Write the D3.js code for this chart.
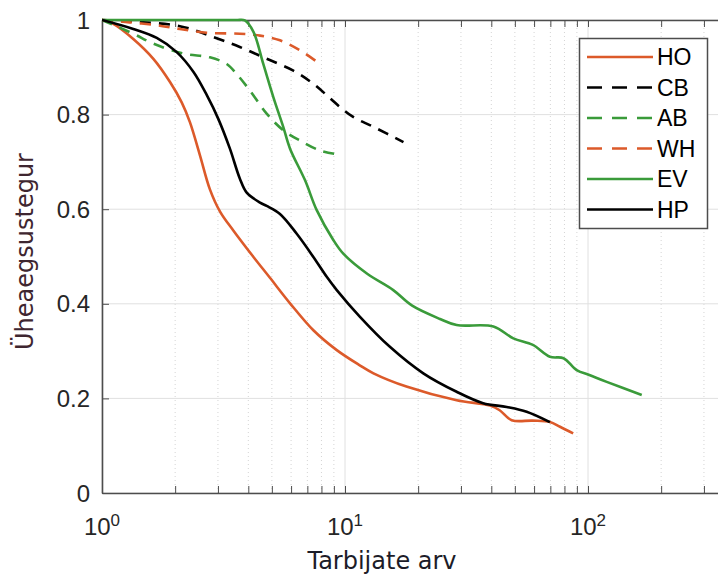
<!DOCTYPE html>
<html>
<head>
<meta charset="utf-8">
<script src="https://cdn.jsdelivr.net/npm/d3@7"></script>
<style>
  body { margin: 0; background: #fff; }
  svg { display: block; }
</style>
</head>
<body>
<div id="chart"></div>
<script>
// Series (x = number of consumers, y = coincidence factor)
const seriesNames = ["HO", "CB", "AB", "WH", "EV", "HP"];

const hoX = [1, 1.113, 1.345, 1.627, 1.905, 2.128, 2.3, 2.53, 2.78, 3.06, 3.47, 4.2, 4.91, 5.94, 7.41, 9.25, 11.5, 13.1, 17.9, 28.8, 39.5, 43.3, 48.5, 59.2, 69.7, 76.7, 86.9];
const hoY = [1, 0.992, 0.96, 0.918, 0.869, 0.826, 0.784, 0.714, 0.642, 0.595, 0.555, 0.499, 0.455, 0.401, 0.344, 0.302, 0.27, 0.253, 0.225, 0.196, 0.185, 0.175, 0.154, 0.153, 0.15, 0.14, 0.126];

const cbX = [1, 1.3, 2.09, 2.87, 3.69, 4.76, 6.13, 7.41, 9.54, 10.8, 13.1, 17.4];
const cbY = [1, 0.997, 0.987, 0.964, 0.943, 0.918, 0.893, 0.865, 0.816, 0.795, 0.774, 0.742];

const abX = [1, 1.345, 1.627, 2.16, 2.78, 3.26, 3.58, 4.06, 4.76, 5.57, 6.53, 7.89, 9.1];
const abY = [1, 0.971, 0.95, 0.929, 0.921, 0.907, 0.886, 0.851, 0.802, 0.767, 0.745, 0.724, 0.717];

const whX = [1, 1.3, 1.73, 2.09, 2.7, 3.69, 4.47, 5.4, 6.53, 7.89];
const whY = [1, 0.995, 0.988, 0.981, 0.973, 0.971, 0.967, 0.957, 0.936, 0.907];

const evX = [1, 2, 3, 3.6, 3.87, 4.2, 4.61, 5.07, 5.57, 5.94, 6.85, 7.65, 8.95, 9.84, 12.3, 15.8, 18.9, 24.6, 28.8, 40.8, 49.3, 59.3, 69.7, 79.3, 89.8, 101.9, 119.4, 166.4];
const evY = [1, 1, 1, 1, 0.999, 0.975, 0.907, 0.837, 0.774, 0.728, 0.661, 0.598, 0.535, 0.506, 0.464, 0.429, 0.396, 0.368, 0.355, 0.352, 0.327, 0.313, 0.288, 0.285, 0.26, 0.249, 0.235, 0.207];

const hpX = [1, 1.345, 1.68, 2.03, 2.38, 2.7, 3.01, 3.36, 3.69, 3.94, 4.47, 4.76, 5.4, 6.33, 7.41, 8.41, 9.25, 11.5, 15.3, 21.0, 28.8, 37.0, 46.3, 55.9, 69.7];
const hpY = [1, 0.981, 0.962, 0.932, 0.89, 0.841, 0.791, 0.728, 0.665, 0.635, 0.614, 0.607, 0.59, 0.548, 0.499, 0.457, 0.429, 0.373, 0.309, 0.253, 0.214, 0.19, 0.182, 0.172, 0.15];

const yTicks = [0, 0.2, 0.4, 0.6, 0.8, 1];
const xDecades = [1, 10, 100];
const xLabel = "Tarbijate arv";
const yLabel = "Üheaegsustegur";

const orange = "#dc5a2a", green = "#3a9b3a", black = "#000000";
const series = [
  { name: "HO", xs: hoX, ys: hoY, color: orange, dash: null },
  { name: "CB", xs: cbX, ys: cbY, color: black, dash: "11,8" },
  { name: "AB", xs: abX, ys: abY, color: green, dash: "11,8" },
  { name: "WH", xs: whX, ys: whY, color: orange, dash: "11,8" },
  { name: "EV", xs: evX, ys: evY, color: green, dash: null },
  { name: "HP", xs: hpX, ys: hpY, color: black, dash: null }
];

const W = 718, H = 577;
const plotLeft = 102, plotTop = 20, plotBottom = 493;

const svg = d3.select("#chart")
  .append("svg")
  .attr("width", W)
  .attr("height", H);

// log x axis, the frame runs on past the right edge of the picture
const x = d3.scaleLog().domain([1, 1000]).range([plotLeft, plotLeft + 3 * 243]);
const y = d3.scaleLinear().domain([0, 1]).range([plotBottom, plotTop]);
const plotRight = x.range()[1];

const minor = [];
xDecades.forEach(d => { for (let k = 2; k <= 9; k++) minor.push(d * k); });

// grid
svg.append("g").selectAll("line.minor")
  .data(minor)
  .enter().append("line")
  .attr("x1", d => x(d)).attr("x2", d => x(d))
  .attr("y1", plotTop).attr("y2", plotBottom)
  .attr("stroke", "#d4d4d4")
  .attr("stroke-width", 1)
  .attr("stroke-dasharray", "1,3");

svg.append("g").selectAll("line.major")
  .data(xDecades.concat([1000]))
  .enter().append("line")
  .attr("x1", d => x(d)).attr("x2", d => x(d))
  .attr("y1", plotTop).attr("y2", plotBottom)
  .attr("stroke", "#e0e0e0");

svg.append("g").selectAll("line.hgrid")
  .data(yTicks)
  .enter().append("line")
  .attr("x1", plotLeft).attr("x2", plotRight)
  .attr("y1", d => y(d)).attr("y2", d => y(d))
  .attr("stroke", "#e0e0e0");

// axes, ticks pointing inwards
const bottomAxis = d3.axisBottom(x).tickValues(xDecades.concat(minor)).tickSizeInner(-7).tickSizeOuter(0).tickFormat("");
const topAxis = d3.axisTop(x).tickValues(xDecades.concat(minor)).tickSizeInner(-7).tickSizeOuter(0).tickFormat("");
const leftAxis = d3.axisLeft(y).tickValues(yTicks).tickSizeInner(-7).tickSizeOuter(0).tickFormat("");

[svg.append("g").attr("transform", `translate(0,${plotBottom})`).call(bottomAxis),
 svg.append("g").attr("transform", `translate(0,${plotTop})`).call(topAxis),
 svg.append("g").attr("transform", `translate(${plotLeft},0)`).call(leftAxis)]
  .forEach(g => {
    g.select(".domain").attr("stroke", "#4d4d4d").attr("stroke-width", 1.6);
    g.selectAll(".tick line").attr("stroke", "#4d4d4d").attr("stroke-width", 1);
  });

// y tick labels
svg.append("g").selectAll("text")
  .data(yTicks)
  .enter().append("text")
  .attr("x", 90)
  .attr("y", d => y(d))
  .attr("dy", "0.36em")
  .attr("text-anchor", "end")
  .attr("font-family", "Liberation Sans, Arial, sans-serif")
  .attr("font-size", 24)
  .attr("fill", "#262626")
  .text(d => d3.format("~g")(d));

// x tick labels 10^n
const xt = svg.append("g").selectAll("text")
  .data(xDecades)
  .enter().append("text")
  .attr("x", d => x(d))
  .attr("y", 535)
  .attr("text-anchor", "middle")
  .attr("font-family", "Liberation Sans, Arial, sans-serif")
  .attr("font-size", 24)
  .attr("fill", "#262626");
xt.append("tspan").text("10");
xt.append("tspan").attr("dy", -9).attr("font-size", 17).text(d => Math.round(Math.log10(d)));

// axis labels
svg.append("text")
  .attr("x", 382)
  .attr("y", 569)
  .attr("text-anchor", "middle")
  .attr("font-family", "DejaVu Sans, Verdana, sans-serif")
  .attr("font-size", 24)
  .attr("fill", "#1c1c28")
  .text(xLabel);

svg.append("text")
  .attr("transform", `translate(33,${(plotTop + plotBottom) / 2 - 5}) rotate(-90)`)
  .attr("text-anchor", "middle")
  .attr("font-family", "DejaVu Sans, Verdana, sans-serif")
  .attr("font-size", 24)
  .attr("fill", "#3e2630")
  .text(yLabel);

// curves
svg.append("clipPath").attr("id", "plotclip")
  .append("rect").attr("x", plotLeft).attr("y", plotTop - 3).attr("width", W - plotLeft).attr("height", plotBottom - plotTop + 3);

const line = d3.line()
  .x(d => x(d[0]))
  .y(d => y(d[1]))
  .curve(d3.curveCatmullRom.alpha(0.5));

svg.append("g").attr("clip-path", "url(#plotclip)")
  .selectAll("path")
  .data(series)
  .enter().append("path")
  .attr("d", s => line(s.xs.map((v, i) => [v, s.ys[i]])))
  .attr("fill", "none")
  .attr("stroke", s => s.color)
  .attr("stroke-width", 2.6)
  .attr("stroke-dasharray", s => s.dash);

// legend
const legend = svg.append("g");
legend.append("rect")
  .attr("x", 579.5).attr("y", 38.5)
  .attr("width", 128).attr("height", 190)
  .attr("fill", "#fff")
  .attr("stroke", "#4d4d4d")
  .attr("stroke-width", 1.5);

const item = legend.selectAll("g.item")
  .data(series)
  .enter().append("g")
  .attr("transform", (d, i) => `translate(0,${57 + i * 30.5})`);

item.append("line")
  .attr("x1", 587).attr("x2", 653)
  .attr("stroke", d => d.color)
  .attr("stroke-width", 2.6)
  .attr("stroke-dasharray", d => d.dash ? "15,10" : null);

item.append("text")
  .attr("x", 657)
  .attr("y", 8)
  .attr("font-family", "Liberation Sans, Arial, sans-serif")
  .attr("font-size", 23)
  .attr("fill", "#000")
  .text(d => d.name);
</script>
</body>
</html>
